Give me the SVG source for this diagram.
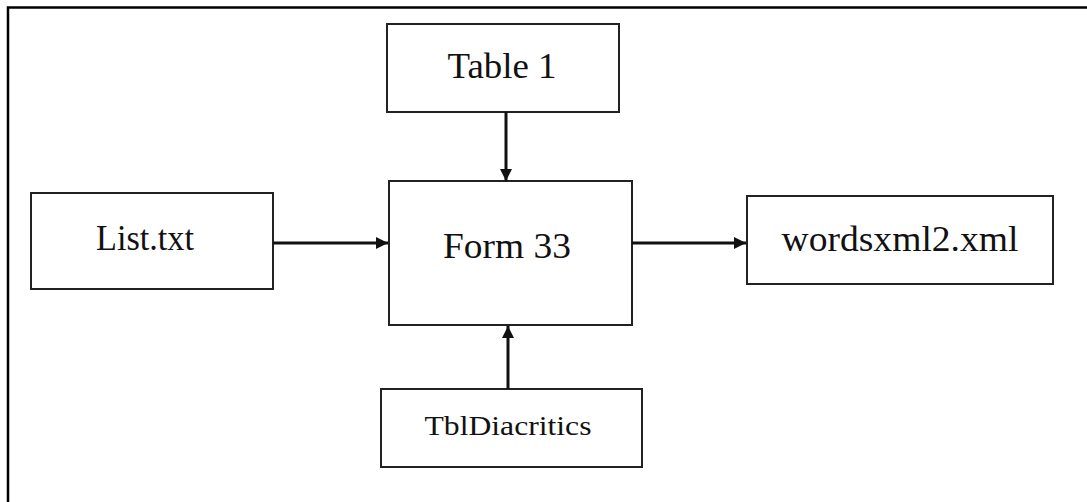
<svg xmlns="http://www.w3.org/2000/svg" width="1087" height="502" viewBox="0 0 1087 502">
<style>
.box{fill:#fff;stroke:#222;stroke-width:2}
.lbl{font-family:"Liberation Serif","Times New Roman",serif;fill:#111;text-anchor:middle}
.conn{stroke:#111;stroke-width:3;fill:none;marker-end:url(#ah)}
</style>
<defs>
<marker id="ah" markerUnits="userSpaceOnUse" markerWidth="14" markerHeight="12" refX="12" refY="6" orient="auto">
<path d="M0,0 L12,6 L0,12 Z" fill="#111"/>
</marker>
</defs>
<rect width="1087" height="502" fill="#fff"/>
<path d="M8,502 L8,7.5 L1087,7.5" fill="none" stroke="#000" stroke-width="2.5"/>
<g id="table1">
<rect class="box" x="387" y="24" width="232" height="88"/>
<text class="lbl" x="502" y="78" font-size="36" textLength="109" lengthAdjust="spacingAndGlyphs">Table 1</text>
</g>
<g id="listtxt">
<rect class="box" x="31" y="193" width="242" height="96"/>
<text class="lbl" x="145" y="250" font-size="35" textLength="98" lengthAdjust="spacingAndGlyphs">List.txt</text>
</g>
<g id="form33">
<rect class="box" x="389" y="181" width="243" height="144"/>
<text class="lbl" x="507" y="258" font-size="36" textLength="128" lengthAdjust="spacingAndGlyphs">Form 33</text>
</g>
<g id="wordsxml">
<rect class="box" x="747" y="196" width="306" height="88"/>
<text class="lbl" x="900" y="251" font-size="36" textLength="237" lengthAdjust="spacingAndGlyphs">wordsxml2.xml</text>
</g>
<g id="tbldiacritics">
<rect class="box" x="381" y="389" width="261" height="78"/>
<text class="lbl" x="508" y="435" font-size="28" textLength="167" lengthAdjust="spacingAndGlyphs">TblDiacritics</text>
</g>
<g id="connectors">
<line class="conn" x1="506" y1="112" x2="506" y2="181"/>
<line class="conn" x1="273" y1="243" x2="388" y2="243"/>
<line class="conn" x1="632" y1="243" x2="746" y2="243"/>
<line class="conn" x1="508" y1="389" x2="508" y2="326"/>
</g>
</svg>
